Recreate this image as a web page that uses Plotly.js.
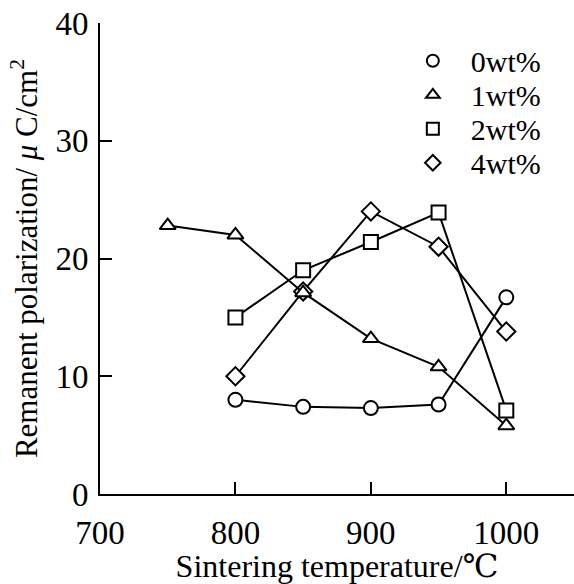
<!DOCTYPE html>
<html>
<head>
<meta charset="utf-8">
<script src="https://cdn.plot.ly/plotly-3.0.1.min.js"></script>
<style>html,body{margin:0;padding:0;background:#fff;}#chart{width:574px;height:584px;}</style>
</head>
<body>
<div id="chart"></div>
<script>
const temps0 = [800, 850, 900, 950, 1000];
const wt0 = [8.0, 7.4, 7.3, 7.6, 16.7];
const temps1 = [750, 800, 850, 900, 950, 1000];
const wt1 = [22.8, 22.0, 17.1, 13.2, 10.8, 5.8];
const temps2 = [800, 850, 900, 950, 1000];
const wt2 = [15.0, 19.0, 21.4, 23.9, 7.1];
const temps4 = [800, 850, 900, 950, 1000];
const wt4 = [10.0, 17.2, 24.0, 21.0, 13.8];
const seriesNames = ['0wt%', '1wt%', '2wt%', '4wt%'];
const xTicks = [700, 800, 900, 1000];
const yTicks = [0, 10, 20, 30, 40];

const FONT = '"Liberation Serif", "DejaVu Serif", serif';
const symbols = ['circle', 'triangle-up', 'square', 'diamond'];
const mk = (sym) => ({symbol: sym, size: 14, color: '#fff', line: {color: '#000', width: 2}});
function tr(x, y, idx) {
  return {
    x: x, y: y, name: seriesNames[idx], type: 'scatter', mode: 'lines+markers',
    line: {color: '#000', width: 2}, marker: mk(symbols[idx]), showlegend: false
  };
}
const legendTraces = seriesNames.map((n, i) => ({
  x: [null], y: [null], name: n, type: 'scatter', mode: 'markers',
  marker: mk(symbols[i]), showlegend: true, legendrank: i + 1
}));
const data = [
  tr(temps0, wt0, 0),
  tr(temps2, wt2, 2),
  tr(temps4, wt4, 3),
  tr(temps1, wt1, 1)
].concat(legendTraces);

const layout = {
  width: 574, height: 584,
  margin: {l: 100, r: 0, t: 23, b: 90},
  paper_bgcolor: '#fff', plot_bgcolor: '#fff',
  font: {family: FONT, size: 30, color: '#000'},
  showlegend: true,
  legend: {
    x: 0.66, y: 0.975, xanchor: 'left', yanchor: 'top',
    bgcolor: 'rgba(0,0,0,0)', borderwidth: 0,
    font: {family: FONT, size: 30, color: '#000'},
    tracegroupgap: 0, itemsizing: 'constant', traceorder: 'normal'
  },
  xaxis: {
    range: [700, 1050], tickmode: 'array', tickvals: xTicks, ticktext: xTicks.map(String),
    ticks: 'inside', ticklen: 12, tickwidth: 2, tickcolor: '#000',
    showline: true, linecolor: '#000', linewidth: 2, showgrid: false, zeroline: false,
    tickfont: {family: FONT, size: 33, color: '#000'}, ticklabelstandoff: 8,
    title: {text: 'Sintering temperature/℃', font: {family: FONT, size: 32, color: '#000'}, standoff: 1}
  },
  yaxis: {
    range: [0, 40], tickmode: 'array', tickvals: yTicks, ticktext: yTicks.map(String),
    ticks: 'inside', ticklen: 12, tickwidth: 2, tickcolor: '#000',
    showline: true, linecolor: '#000', linewidth: 2, showgrid: false, zeroline: false,
    tickfont: {family: FONT, size: 33, color: '#000'}, ticklabelstandoff: 3,
    title: {text: 'Remanent polarization/ <i>μ</i> C/cm<sup>2</sup>', font: {family: FONT, size: 31, color: '#000'}, standoff: 9}
  }
};
Plotly.newPlot('chart', data, layout, {displayModeBar: false, staticPlot: true}).then(function () {
  const items = document.querySelectorAll('.legend .traces');
  let y0 = null;
  items.forEach(function (g, i) {
    const m = /translate\(\s*([-\d.]+)[ ,]+([-\d.]+)\s*\)/.exec(g.getAttribute('transform') || '');
    const x = m ? parseFloat(m[1]) : 0;
    const y = m ? parseFloat(m[2]) : 0;
    if (y0 === null) y0 = y;
    g.setAttribute('transform', 'translate(' + x + ',' + (y0 + i * 34) + ')');
    const t = g.querySelector('.legendtext');
    if (t) t.setAttribute('x', 58);
  });
  document.querySelectorAll('.legend [clip-path]').forEach(function (el) { el.removeAttribute('clip-path'); });
});
</script>
</body>
</html>
